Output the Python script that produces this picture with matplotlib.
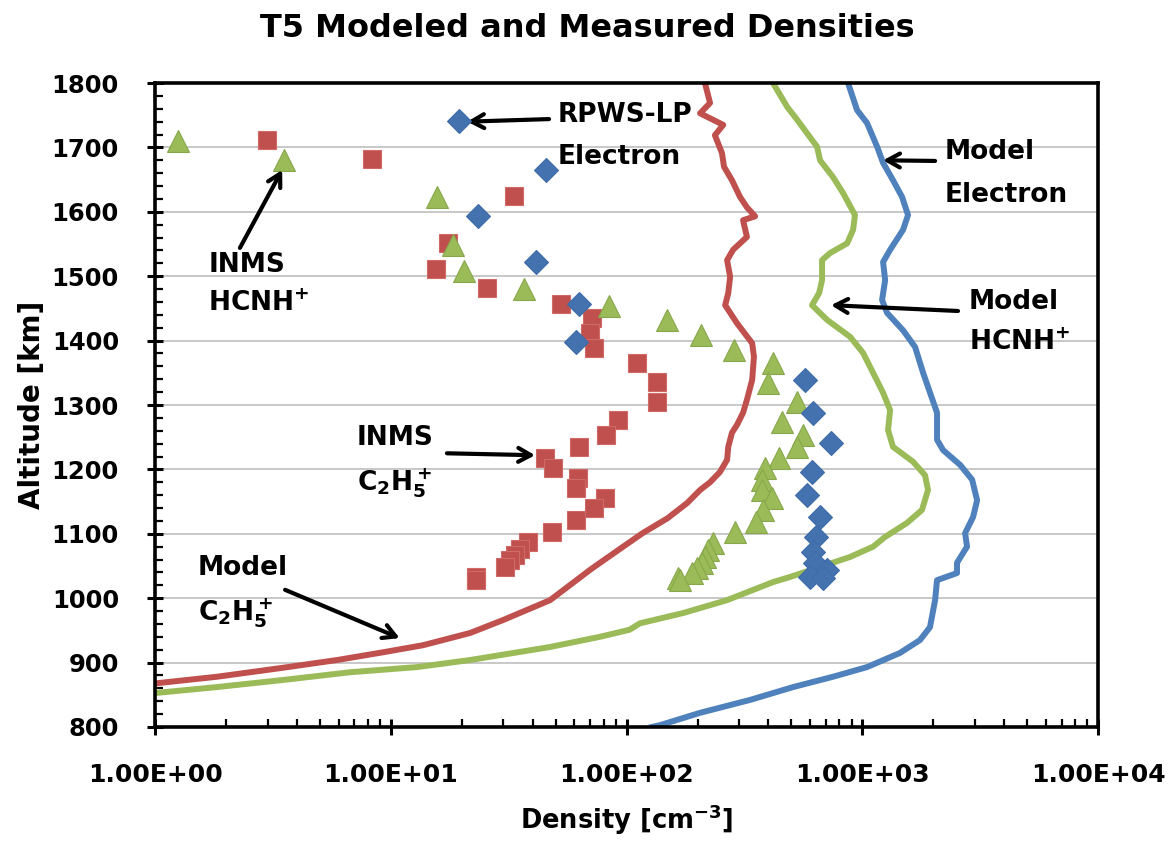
import matplotlib
matplotlib.use("Agg")
import matplotlib.pyplot as plt
from matplotlib.ticker import FixedLocator, LogLocator, FuncFormatter, NullFormatter

plt.rcParams["font.family"] = ["DejaVu Sans"]
plt.rcParams["font.weight"] = "bold"
plt.rcParams["mathtext.fontset"] = "dejavusans"
plt.rcParams["mathtext.default"] = "bf"

# Model profiles: altitude [km] and density [cm^-3]
model_e_alt = [1800, 1758, 1738, 1701, 1676, 1649, 1623, 1595, 1572, 1541, 1522, 1494,
               1463, 1443, 1416, 1390, 1350, 1310, 1288, 1246, 1230, 1207, 1184, 1152,
               1126, 1101, 1080, 1055, 1039, 1028, 997, 955, 935, 915, 893, 878, 862,
               842, 822, 803, 800]
model_e_den = [870, 950, 1047, 1156, 1225, 1350, 1475, 1563, 1489, 1312, 1225, 1250,
               1213, 1274, 1489, 1675, 1811, 1977, 2075, 2075, 2201, 2600, 2924, 3069,
               2951, 2729, 2782, 2522, 2522, 2075, 2036, 1937, 1757, 1445, 1047, 751, 509,
               334, 205, 139, 128]

model_hcnh_alt = [1800, 1763, 1743, 1722, 1701, 1680, 1654, 1629, 1595, 1572, 1551, 1536,
                  1525, 1494, 1474, 1455, 1432, 1406, 1381, 1350, 1319, 1292, 1261, 1235,
                  1212, 1191, 1168, 1137, 1117, 1095, 1080, 1064, 1047, 1033, 1025, 997,
                  977, 961, 951, 940, 924, 904, 893, 885, 873, 862, 853]
model_hcnh_den = [418, 480, 529, 583, 643, 662, 751, 829, 931, 914, 862, 730,
                  675, 675, 656, 612, 710, 887, 1007, 1111, 1225, 1312, 1286, 1350,
                  1641, 1845, 1900, 1791, 1549, 1248, 1111, 887, 643, 494, 418, 267,
                  174, 114, 103, 77, 47, 21.7, 12.9, 6.72, 3.49, 1.83, 1.02]

model_c2h5_alt = [1800, 1769, 1753, 1735, 1719, 1691, 1670, 1649, 1623, 1607, 1593, 1587,
                  1561, 1541, 1525, 1499, 1474, 1455, 1427, 1396, 1375, 1339, 1308, 1288,
                  1269, 1257, 1235, 1215, 1196, 1180, 1168, 1148, 1124, 1101, 1080, 1055,
                  1044, 997, 966, 946, 927, 916, 904, 892, 878, 868]
model_c2h5_den = [215, 226, 205, 257, 237, 254, 259, 280, 303, 324, 351, 312,
                  324, 283, 267, 275, 270, 262, 294, 341, 347, 341, 324, 312,
                  294, 280, 270, 267, 249, 226, 205, 181, 149, 117, 96.7, 77.2,
                  70, 47.4, 29.9, 21.7, 13.7, 9.27, 5.92, 3.49, 1.83, 1.02]

# Measured densities
rpws_alt = [1741, 1665, 1593, 1522, 1457, 1398, 1339, 1288, 1241, 1196, 1160, 1126,
            1095, 1072, 1055, 1044, 1033, 1031]
rpws_den = [19.5, 45.6, 23.4, 41.3, 62.9, 61.1, 572, 618, 736, 612, 583, 662,
            637, 618, 628, 708, 600, 681]

inms_c2h5_alt = [1711, 1682, 1625, 1552, 1511, 1482, 1457, 1435, 1412, 1388, 1365, 1336,
                 1305, 1277, 1253, 1235, 1218, 1202, 1187, 1171, 1156, 1140, 1121, 1103,
                 1087, 1077, 1067, 1059, 1048, 1033, 1028]
inms_c2h5_den = [2.99, 8.33, 33.3, 17.5, 15.6, 25.6, 52.7, 71.4, 70, 73, 111, 135,
                 135, 92, 82, 63, 45, 48.8, 62, 61, 81, 73, 61, 48.3,
                 38.2, 35.3, 33.7, 32, 30.5, 23, 23]

inms_hcnh_alt = [1710, 1680, 1623, 1548, 1508, 1480, 1454, 1432, 1409, 1385, 1365, 1334,
                 1305, 1274, 1253, 1235, 1218, 1202, 1184, 1168, 1156, 1137, 1118, 1103,
                 1086, 1075, 1064, 1055, 1047, 1039, 1031, 1028]
inms_hcnh_den = [1.25, 3.52, 15.7, 18.4, 20.5, 36.7, 84.3, 148.5, 207, 286, 418, 398,
                 528, 457, 561, 528, 443, 387, 375, 375, 414, 379, 354, 288,
                 233, 222, 215, 209, 199, 190, 165, 169]

RED = "#C0504D"
GREEN = "#9BBB59"
BLUE = "#4F81BD"

fig = plt.figure(figsize=(11.75, 8.42), dpi=100)
ax = fig.add_axes([0.132, 0.1366, 0.8025, 0.7648])

ax.plot(model_c2h5_den, model_c2h5_alt, color=RED, lw=4.3, zorder=2)
ax.plot(model_hcnh_den, model_hcnh_alt, color=GREEN, lw=4.3, zorder=2)
ax.plot(model_e_den, model_e_alt, color=BLUE, lw=4.3, zorder=2)

ax.plot(inms_c2h5_den, inms_c2h5_alt, ls="none", marker="s", ms=13,
        color=RED, mec="#D06A67", mew=0.8, zorder=3)
ax.plot(inms_hcnh_den, inms_hcnh_alt, ls="none", marker="^", ms=16,
        color=GREEN, mec="#86A84A", mew=0.8, zorder=3)
ax.plot(rpws_den, rpws_alt, ls="none", marker="D", ms=12,
        color="#4472AE", mec="#3F6CA8", mew=0.8, zorder=4)

ax.set_xscale("log")
ax.set_xlim(1, 1e4)
ax.set_ylim(800, 1800)

ax.xaxis.set_major_locator(FixedLocator([1, 10, 100, 1000, 10000]))
ax.xaxis.set_minor_locator(LogLocator(base=10, subs=range(2, 10)))
ax.xaxis.set_major_formatter(FuncFormatter(lambda v, p: f"{v:.2E}"))
ax.xaxis.set_minor_formatter(NullFormatter())
ax.set_yticks(range(800, 1801, 100))
ax.set_yticks(range(800, 1801, 20), minor=True)

ax.tick_params(which="major", direction="inout", length=12, width=2.2)
ax.tick_params(which="minor", direction="in", length=6, width=1.6)
ax.tick_params(axis="x", which="major", pad=20, labelsize=18)
ax.tick_params(axis="y", which="major", pad=20, labelsize=17.5)
for lab in ax.get_xticklabels() + ax.get_yticklabels():
    lab.set_fontweight("bold")

for s in ax.spines.values():
    s.set_linewidth(2.6)

ax.yaxis.grid(True, which="major", color="#C8C8C8", lw=1.4)
ax.set_axisbelow(True)

fig.text(0.5, 0.966, "T5 Modeled and Measured Densities", fontsize=23,
         fontweight="bold", ha="center", va="center")
ax.set_xlabel("Density [c$m^{-3}$]", fontsize=18.5, fontweight="bold", labelpad=11)
ax.set_ylabel("Altitude [km]", fontsize=20, fontweight="bold", labelpad=4)

arrow = dict(arrowstyle="->,head_length=0.9,head_width=0.5", color="black", lw=3,
             shrinkA=0, shrinkB=0)


def label(x, alt1, alt2, line1, line2):
    # two-line label, each line centred on its own altitude
    for alt, s in ((alt1, line1), (alt2, line2)):
        ax.text(x, alt, s, fontsize=19, fontweight="bold", ha="left", va="center")


ax.annotate("", xy=(21.1, 1740), xytext=(46.9, 1744), arrowprops=arrow)
label(51.2, 1750, 1685, "RPWS-LP", "Electron")

ax.annotate("", xy=(1225, 1680), xytext=(2036, 1679), arrowprops=arrow)
label(2244, 1693, 1626, "Model", "Electron")

ax.annotate("", xy=(3.46, 1665), xytext=(2.29, 1544), arrowprops=arrow)
label(1.68, 1517, 1457, "INMS", "HCN$H^{+}$")

ax.annotate("", xy=(737, 1455), xytext=(2547, 1446), arrowprops=arrow)
label(2836, 1460, 1396, "Model", "HCN$H^{+}$")

ax.annotate("", xy=(40.9, 1222), xytext=(17.3, 1225), arrowprops=arrow)
label(7.19, 1249, 1179, "INMS", "C$_2$H$_5^+$")

ax.annotate("", xy=(10.9, 938), xytext=(3.56, 1013), arrowprops=arrow)
label(1.52, 1047, 977, "Model", "C$_2$H$_5^+$")

fig.savefig("out.png", dpi=100)
